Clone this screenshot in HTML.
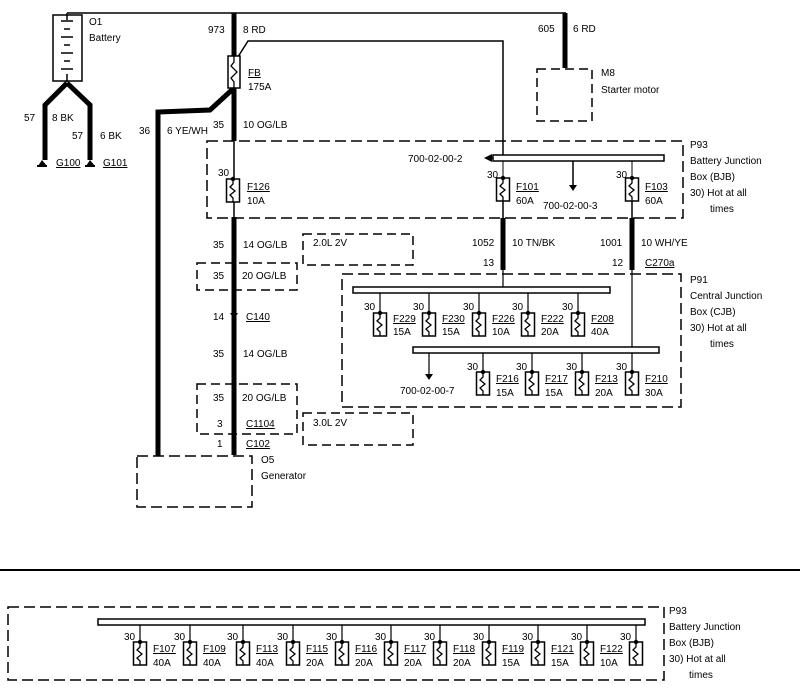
<!DOCTYPE html>
<html><head><meta charset="utf-8"><style>
html,body{margin:0;padding:0;background:#fff;}
svg{display:block;font-family:"Liberation Sans",Arial,sans-serif;font-size:10px;}
text{fill:#000;}
</style></head><body>
<svg width="800" height="696" viewBox="0 0 800 696" xmlns="http://www.w3.org/2000/svg">
<defs>
<g id="fz">
<rect x="-6.5" y="0" width="13" height="23" fill="#fff" stroke="#000" stroke-width="1.5"/>
<path d="M0,0 L0,5 L-3,8 L2,12 L-3,16 L0,19 L0,23" fill="none" stroke="#000" stroke-width="1.3"/>
<circle cx="0" cy="0" r="2.2" fill="#000"/>
</g>
</defs>
<g stroke="#000" fill="none">
<!-- top wire -->
<line x1="67" y1="13" x2="566" y2="13" stroke-width="1.5"/>
<!-- battery -->
<rect x="53" y="15" width="29" height="66" stroke-width="1.5"/>
<line x1="67" y1="13" x2="67" y2="20" stroke-width="1.5"/>
<g stroke-width="1.5"><line x1="61" y1="21" x2="73" y2="21"/><line x1="64" y1="29" x2="70" y2="29"/><line x1="61" y1="37" x2="73" y2="37"/><line x1="64" y1="45" x2="70" y2="45"/><line x1="61" y1="53" x2="73" y2="53"/><line x1="64" y1="61" x2="70" y2="61"/><line x1="61" y1="69" x2="73" y2="69"/><line x1="67" y1="74" x2="67" y2="82"/></g>
<!-- ground wires -->
<polyline points="67,83 45,105 45,160" stroke-width="5"/>
<polyline points="67,83 90,105 90,160" stroke-width="5"/>
<!-- main vertical -->
<line x1="234" y1="13" x2="234" y2="141" stroke-width="5"/>
<line x1="234" y1="141" x2="234" y2="217" stroke-width="1.5"/>
<line x1="234" y1="217" x2="234" y2="455" stroke-width="5"/>
<!-- FB fuse thin branch -->
<polyline points="236,60 248,41 503,41 503,155" stroke-width="1.5"/>
<!-- wire 36 -->
<polyline points="234,88 210,110 158,112 158,456" stroke-width="5"/>
<!-- starter -->
<line x1="565" y1="13" x2="565" y2="68" stroke-width="5"/>
<rect x="537" y="69" width="55" height="52" stroke-width="1.5" stroke-dasharray="9,5"/>
<!-- BJB box -->
<rect x="207" y="141" width="476" height="77" stroke-width="1.5" stroke-dasharray="11,5"/>
<rect x="493" y="155" width="171" height="6" stroke-width="1.5"/>
<polyline points="490,158 493,158" stroke-width="1.5"/>
<line x1="503" y1="161" x2="503" y2="178"/>
<line x1="632" y1="161" x2="632" y2="178"/>
<line x1="573" y1="161" x2="573" y2="186" stroke-width="1.5"/>
<line x1="503" y1="201" x2="503" y2="218" stroke-width="1.5"/>
<line x1="632" y1="201" x2="632" y2="218" stroke-width="1.5"/>
<!-- wires to CJB -->
<line x1="503" y1="218" x2="503" y2="270" stroke-width="5"/>
<line x1="632" y1="218" x2="632" y2="270" stroke-width="5"/>
<line x1="503" y1="270" x2="503" y2="287" stroke-width="1.2"/>
<line x1="632" y1="270" x2="632" y2="347" stroke-width="1.2"/>
<!-- CJB -->
<rect x="342" y="274" width="339" height="133" stroke-width="1.5" stroke-dasharray="11,5"/>
<rect x="353" y="287" width="257" height="6" stroke-width="1.5"/>
<rect x="413" y="347" width="246" height="6" stroke-width="1.5"/>
<g stroke-width="1.2">
<line x1="380" y1="293" x2="380" y2="313"/><line x1="429" y1="293" x2="429" y2="313"/><line x1="479" y1="293" x2="479" y2="313"/><line x1="528" y1="293" x2="528" y2="313"/><line x1="578" y1="293" x2="578" y2="313"/>
<line x1="483" y1="353" x2="483" y2="372"/><line x1="532" y1="353" x2="532" y2="372"/><line x1="582" y1="353" x2="582" y2="372"/><line x1="632" y1="353" x2="632" y2="372"/>
<line x1="429" y1="353" x2="429" y2="375"/>
</g>
<!-- left dashed boxes -->
<rect x="197" y="263" width="100" height="27" stroke-width="1.5" stroke-dasharray="9,5"/>
<rect x="303" y="234" width="110" height="31" stroke-width="1.5" stroke-dasharray="9,5"/>
<rect x="197" y="384" width="100" height="50" stroke-width="1.5" stroke-dasharray="9,5"/>
<rect x="303" y="413" width="110" height="32" stroke-width="1.5" stroke-dasharray="9,5"/>
<!-- generator -->
<rect x="137" y="456" width="115" height="51" stroke-width="1.5" stroke-dasharray="11,5"/>
<!-- separator -->
<line x1="0" y1="570" x2="800" y2="570" stroke-width="2"/>
<!-- bottom box -->
<rect x="8" y="607" width="656" height="73" stroke-width="1.5" stroke-dasharray="11,5"/>
<rect x="98" y="619" width="547" height="6" stroke-width="1.5"/>
<g stroke-width="1.2">
<line x1="140" y1="625" x2="140" y2="642"/><line x1="190" y1="625" x2="190" y2="642"/><line x1="243" y1="625" x2="243" y2="642"/><line x1="293" y1="625" x2="293" y2="642"/><line x1="342" y1="625" x2="342" y2="642"/><line x1="391" y1="625" x2="391" y2="642"/><line x1="440" y1="625" x2="440" y2="642"/><line x1="489" y1="625" x2="489" y2="642"/><line x1="538" y1="625" x2="538" y2="642"/><line x1="587" y1="625" x2="587" y2="642"/><line x1="636" y1="625" x2="636" y2="642"/>
</g>
</g>
<!-- filled bits -->
<g fill="#000">
<polygon points="38,166 47,166 42,160"/><polygon points="86,166 95,166 90,160"/>
<rect x="37" y="165" width="10" height="2"/><rect x="85" y="165" width="10" height="2"/>
<polygon points="484,158 492,154 492,162"/>
<polygon points="569,185 577,185 573,191"/>
<polygon points="425,374 433,374 429,380"/>
<polygon points="230,313 238,313 234,319"/>
</g>
<!-- fuses -->
<g>
<rect x="228" y="56" width="12" height="32" fill="#fff" stroke="#000" stroke-width="1.5"/>
<path d="M234,56 L234,62 L231,66 L237,72 L231,78 L234,82 L234,88" fill="none" stroke="#000" stroke-width="1.3"/>
<use href="#fz" x="233" y="179"/>
<use href="#fz" x="503" y="178"/><use href="#fz" x="632" y="178"/>
<use href="#fz" x="380" y="313"/><use href="#fz" x="429" y="313"/><use href="#fz" x="479" y="313"/><use href="#fz" x="528" y="313"/><use href="#fz" x="578" y="313"/>
<use href="#fz" x="483" y="372"/><use href="#fz" x="532" y="372"/><use href="#fz" x="582" y="372"/><use href="#fz" x="632" y="372"/>
<use href="#fz" x="140" y="642"/><use href="#fz" x="190" y="642"/><use href="#fz" x="243" y="642"/><use href="#fz" x="293" y="642"/><use href="#fz" x="342" y="642"/><use href="#fz" x="391" y="642"/><use href="#fz" x="440" y="642"/><use href="#fz" x="489" y="642"/><use href="#fz" x="538" y="642"/><use href="#fz" x="587" y="642"/><use href="#fz" x="636" y="642"/>
</g>
<!-- texts -->
<g>
<text x="89" y="25">O1</text><text x="89" y="41">Battery</text>
<text x="24" y="121">57</text><text x="52" y="121">8 BK</text>
<text x="72" y="139">57</text><text x="100" y="139">6 BK</text>
<text x="56" y="166" text-decoration="underline">G100</text><text x="103" y="166" text-decoration="underline">G101</text>
<text x="139" y="134">36</text><text x="167" y="134">6 YE/WH</text>
<text x="208" y="33">973</text><text x="243" y="33">8 RD</text>
<text x="248" y="76" text-decoration="underline">FB</text><text x="248" y="90">175A</text>
<text x="213" y="128">35</text><text x="243" y="128">10 OG/LB</text>
<text x="218" y="176">30</text><text x="247" y="190" text-decoration="underline">F126</text><text x="247" y="204">10A</text>
<text x="538" y="32">605</text><text x="573" y="32">6 RD</text>
<text x="601" y="76">M8</text><text x="601" y="93">Starter motor</text>
<text x="690" y="148">P93</text><text x="690" y="164">Battery Junction</text><text x="690" y="180">Box (BJB)</text><text x="690" y="196">30)  Hot at all</text><text x="710" y="212">times</text>
<text x="408" y="162">700-02-00-2</text>
<text x="487" y="178">30</text><text x="516" y="190" text-decoration="underline">F101</text><text x="516" y="204">60A</text>
<text x="543" y="209">700-02-00-3</text>
<text x="616" y="178">30</text><text x="645" y="190" text-decoration="underline">F103</text><text x="645" y="204">60A</text>
<text x="472" y="246">1052</text><text x="512" y="246">10 TN/BK</text>
<text x="600" y="246">1001</text><text x="641" y="246">10 WH/YE</text>
<text x="483" y="266">13</text><text x="612" y="266">12</text><text x="645" y="266" text-decoration="underline">C270a</text>
<text x="690" y="283">P91</text><text x="690" y="299">Central Junction</text><text x="690" y="315">Box (CJB)</text><text x="690" y="331">30)  Hot at all</text><text x="710" y="347">times</text>
<text x="364" y="310">30</text><text x="413" y="310">30</text><text x="463" y="310">30</text><text x="512" y="310">30</text><text x="562" y="310">30</text>
<text x="393" y="322" text-decoration="underline">F229</text><text x="393" y="335">15A</text>
<text x="442" y="322" text-decoration="underline">F230</text><text x="442" y="335">15A</text>
<text x="492" y="322" text-decoration="underline">F226</text><text x="492" y="335">10A</text>
<text x="541" y="322" text-decoration="underline">F222</text><text x="541" y="335">20A</text>
<text x="591" y="322" text-decoration="underline">F208</text><text x="591" y="335">40A</text>
<text x="467" y="370">30</text><text x="516" y="370">30</text><text x="566" y="370">30</text><text x="616" y="370">30</text>
<text x="496" y="382" text-decoration="underline">F216</text><text x="496" y="396">15A</text>
<text x="545" y="382" text-decoration="underline">F217</text><text x="545" y="396">15A</text>
<text x="595" y="382" text-decoration="underline">F213</text><text x="595" y="396">20A</text>
<text x="645" y="382" text-decoration="underline">F210</text><text x="645" y="396">30A</text>
<text x="400" y="394">700-02-00-7</text>
<text x="213" y="248">35</text><text x="243" y="248">14 OG/LB</text>
<text x="313" y="246">2.0L 2V</text>
<text x="213" y="279">35</text><text x="242" y="279">20 OG/LB</text>
<text x="213" y="320">14</text><text x="246" y="320" text-decoration="underline">C140</text>
<text x="213" y="357">35</text><text x="243" y="357">14 OG/LB</text>
<text x="213" y="401">35</text><text x="242" y="401">20 OG/LB</text>
<text x="217" y="427">3</text><text x="246" y="427" text-decoration="underline">C1104</text>
<text x="313" y="426">3.0L 2V</text>
<text x="217" y="447">1</text><text x="246" y="447" text-decoration="underline">C102</text>
<text x="261" y="463">O5</text><text x="261" y="479">Generator</text>
<text x="669" y="614">P93</text><text x="669" y="630">Battery Junction</text><text x="669" y="646">Box (BJB)</text><text x="669" y="662">30)  Hot at all</text><text x="689" y="678">times</text>
<text x="124" y="640">30</text><text x="174" y="640">30</text><text x="227" y="640">30</text><text x="277" y="640">30</text><text x="326" y="640">30</text><text x="375" y="640">30</text><text x="424" y="640">30</text><text x="473" y="640">30</text><text x="522" y="640">30</text><text x="571" y="640">30</text><text x="620" y="640">30</text>
<text x="153" y="652" text-decoration="underline">F107</text><text x="153" y="666">40A</text>
<text x="203" y="652" text-decoration="underline">F109</text><text x="203" y="666">40A</text>
<text x="256" y="652" text-decoration="underline">F113</text><text x="256" y="666">40A</text>
<text x="306" y="652" text-decoration="underline">F115</text><text x="306" y="666">20A</text>
<text x="355" y="652" text-decoration="underline">F116</text><text x="355" y="666">20A</text>
<text x="404" y="652" text-decoration="underline">F117</text><text x="404" y="666">20A</text>
<text x="453" y="652" text-decoration="underline">F118</text><text x="453" y="666">20A</text>
<text x="502" y="652" text-decoration="underline">F119</text><text x="502" y="666">15A</text>
<text x="551" y="652" text-decoration="underline">F121</text><text x="551" y="666">15A</text>
<text x="600" y="652" text-decoration="underline">F122</text><text x="600" y="666">10A</text>
</g>
</svg>
</body></html>
